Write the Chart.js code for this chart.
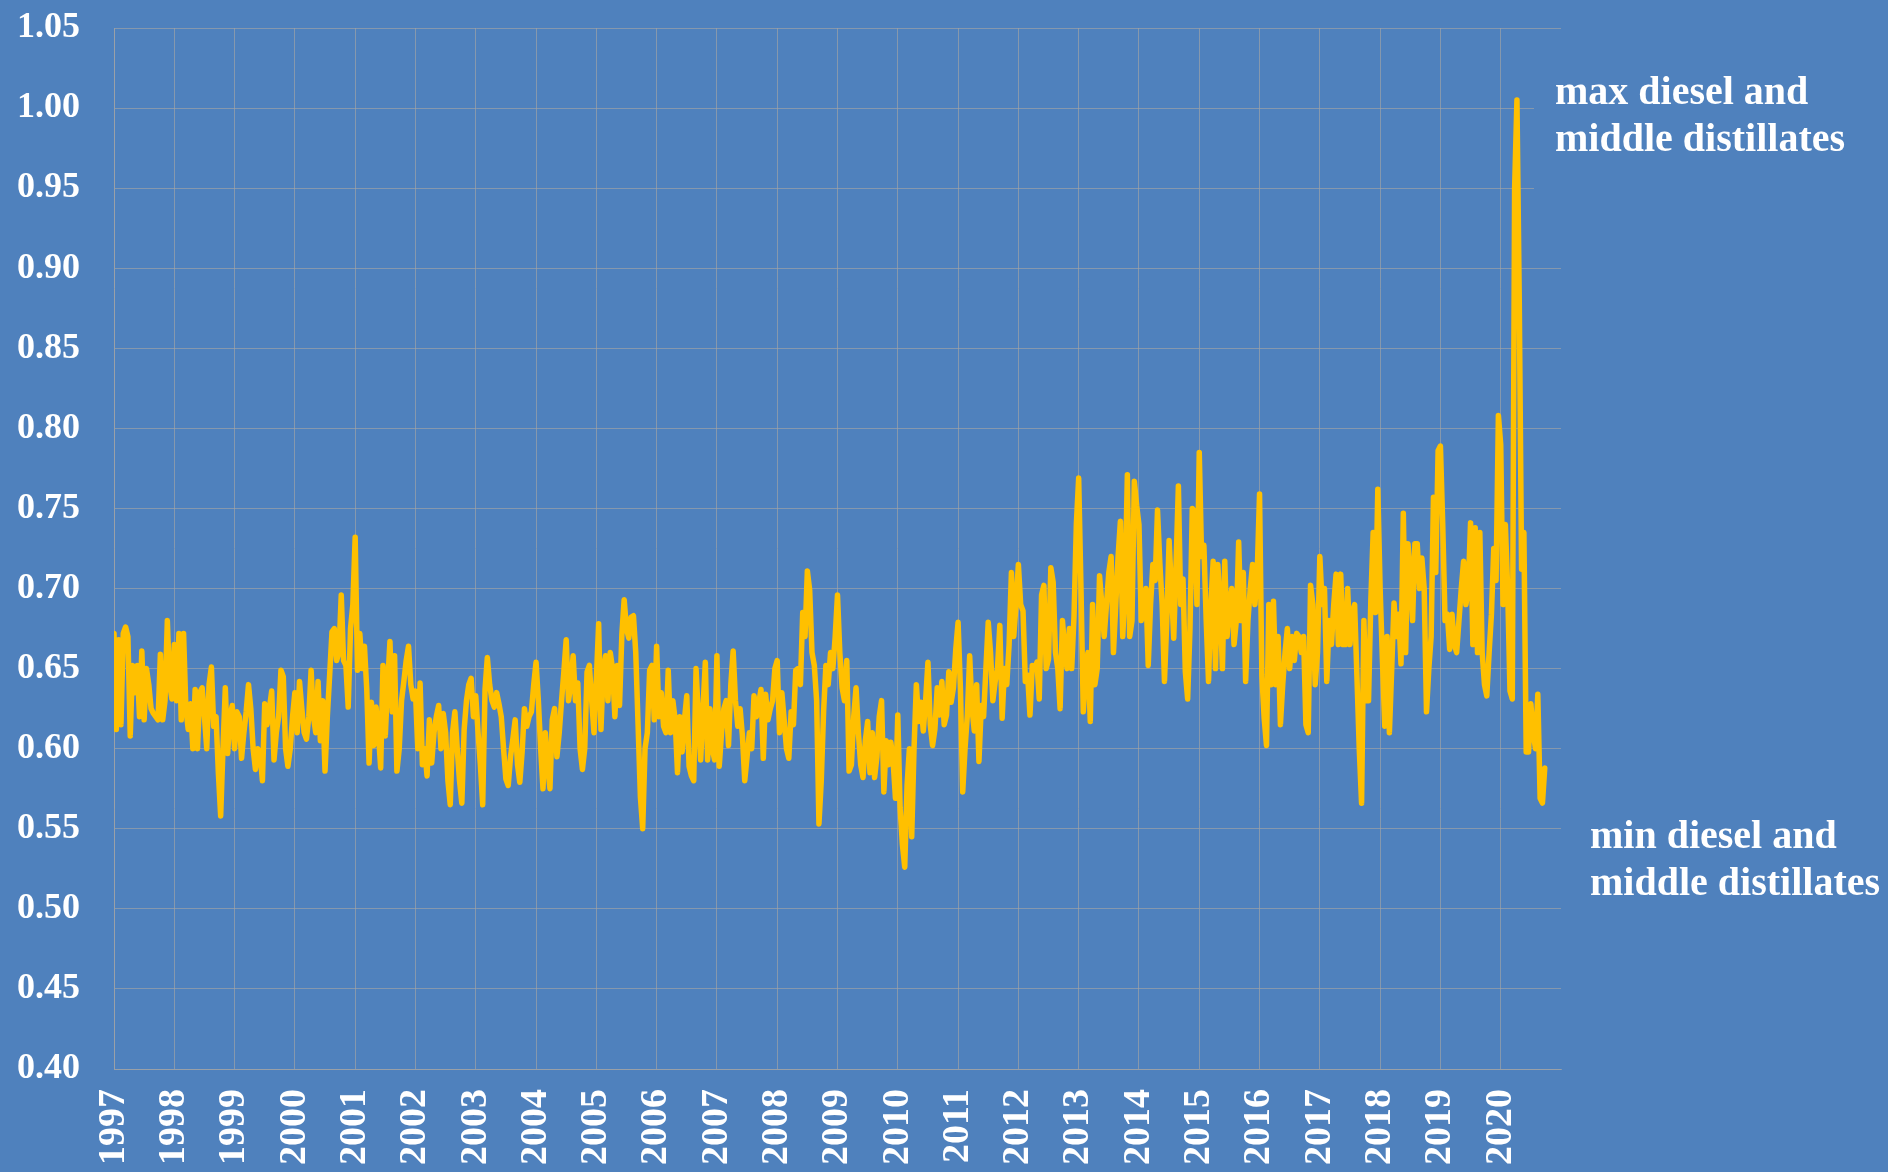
<!DOCTYPE html>
<html>
<head>
<meta charset="utf-8">
<script src="https://cdn.jsdelivr.net/npm/chart.js@4.4.0/dist/chart.umd.min.js"></script>
<style>
  html, body { margin: 0; padding: 0; background: #4F81BD; }
  #wrap { width: 1888px; height: 1172px; }
</style>
</head>
<body>
<div id="wrap"><canvas id="c" width="1888" height="1172"></canvas></div>
<script>
// ---- DATA (26 readings per year, ~every two weeks) ----
const yearLabels = ['1997','1998','1999','2000','2001','2002','2003','2004','2005','2006','2007','2008',
                    '2009','2010','2011','2012','2013','2014','2015','2016','2017','2018','2019','2020'];
const yTicks = [0.40,0.45,0.50,0.55,0.60,0.65,0.70,0.75,0.80,0.85,0.90,0.95,1.00,1.05];

const v1997 = [0.672,0.612,0.668,0.615,0.672,0.676,0.670,0.608,0.652,0.635,0.652,0.620,0.661,0.618,0.650,0.640,0.625,0.622,0.620,0.618,0.659,0.618,0.630,0.680,0.640,0.631];
const v1998 = [0.665,0.630,0.672,0.618,0.672,0.625,0.612,0.628,0.600,0.637,0.600,0.635,0.638,0.620,0.600,0.640,0.651,0.614,0.620,0.585,0.558,0.600,0.638,0.597,0.620,0.627];
const v1999 = [0.600,0.623,0.620,0.594,0.610,0.623,0.640,0.625,0.600,0.587,0.600,0.597,0.580,0.628,0.615,0.625,0.636,0.593,0.610,0.620,0.649,0.645,0.600,0.589,0.600,0.620];
const v2000 = [0.635,0.610,0.642,0.625,0.610,0.606,0.620,0.649,0.620,0.610,0.642,0.605,0.630,0.586,0.620,0.646,0.673,0.675,0.655,0.660,0.696,0.655,0.652,0.626,0.675,0.690];
const v2001 = [0.732,0.649,0.672,0.650,0.664,0.637,0.591,0.629,0.602,0.626,0.610,0.588,0.652,0.608,0.640,0.667,0.623,0.658,0.586,0.600,0.630,0.642,0.655,0.664,0.640,0.631];
const v2002 = [0.636,0.600,0.641,0.590,0.600,0.583,0.618,0.591,0.610,0.620,0.627,0.600,0.622,0.610,0.580,0.565,0.610,0.623,0.600,0.580,0.566,0.612,0.630,0.640,0.644,0.620];
const v2003 = [0.633,0.610,0.590,0.565,0.637,0.657,0.640,0.630,0.626,0.635,0.628,0.620,0.600,0.581,0.577,0.595,0.606,0.618,0.590,0.579,0.598,0.625,0.614,0.620,0.623,0.640];
const v2004 = [0.654,0.630,0.600,0.575,0.610,0.590,0.575,0.618,0.625,0.595,0.610,0.630,0.648,0.668,0.630,0.640,0.658,0.630,0.641,0.600,0.587,0.600,0.648,0.652,0.630,0.610];
const v2005 = [0.643,0.678,0.612,0.650,0.658,0.630,0.660,0.650,0.620,0.652,0.627,0.671,0.693,0.675,0.669,0.682,0.683,0.660,0.615,0.570,0.550,0.600,0.610,0.649,0.652,0.618];
const v2006 = [0.664,0.620,0.635,0.614,0.610,0.649,0.610,0.630,0.618,0.585,0.620,0.598,0.618,0.633,0.589,0.583,0.580,0.650,0.620,0.593,0.625,0.654,0.593,0.625,0.600,0.593];
const v2007 = [0.658,0.589,0.610,0.625,0.630,0.602,0.640,0.661,0.630,0.614,0.625,0.608,0.580,0.595,0.610,0.600,0.633,0.620,0.628,0.637,0.594,0.634,0.618,0.625,0.630,0.650];
const v2008 = [0.655,0.610,0.635,0.618,0.600,0.594,0.623,0.615,0.649,0.650,0.640,0.685,0.670,0.711,0.699,0.660,0.652,0.630,0.553,0.580,0.623,0.652,0.640,0.660,0.650,0.670];
const v2009 = [0.696,0.660,0.638,0.630,0.655,0.586,0.590,0.620,0.638,0.610,0.590,0.582,0.605,0.617,0.585,0.610,0.582,0.595,0.620,0.630,0.573,0.605,0.590,0.604,0.592,0.569];
const v2010 = [0.621,0.563,0.540,0.526,0.577,0.600,0.545,0.600,0.640,0.617,0.629,0.611,0.630,0.654,0.615,0.602,0.612,0.638,0.621,0.642,0.615,0.621,0.648,0.629,0.638,0.662];
const v2011 = [0.679,0.638,0.573,0.600,0.621,0.658,0.625,0.611,0.640,0.592,0.627,0.620,0.650,0.679,0.660,0.630,0.642,0.650,0.677,0.619,0.650,0.640,0.665,0.710,0.670,0.690];
const v2012 = [0.715,0.690,0.686,0.642,0.646,0.621,0.652,0.650,0.654,0.631,0.696,0.702,0.650,0.656,0.713,0.704,0.660,0.650,0.625,0.680,0.662,0.650,0.675,0.650,0.683,0.740];
const v2013 = [0.769,0.700,0.623,0.650,0.660,0.617,0.690,0.640,0.650,0.708,0.690,0.670,0.690,0.710,0.720,0.660,0.690,0.720,0.742,0.670,0.700,0.771,0.670,0.680,0.767,0.752];
const v2014 = [0.740,0.680,0.690,0.700,0.652,0.690,0.715,0.705,0.749,0.716,0.690,0.642,0.680,0.730,0.700,0.669,0.715,0.764,0.690,0.706,0.648,0.631,0.675,0.750,0.748,0.690];
const v2015 = [0.785,0.720,0.727,0.680,0.642,0.690,0.717,0.650,0.715,0.690,0.650,0.717,0.670,0.690,0.700,0.665,0.680,0.729,0.680,0.710,0.642,0.680,0.700,0.715,0.690,0.710];
const v2016 = [0.759,0.646,0.619,0.602,0.690,0.640,0.692,0.640,0.670,0.615,0.640,0.660,0.675,0.650,0.670,0.655,0.672,0.670,0.660,0.670,0.615,0.610,0.702,0.690,0.640,0.660];
const v2017 = [0.720,0.690,0.700,0.642,0.680,0.665,0.690,0.709,0.665,0.709,0.665,0.665,0.700,0.665,0.685,0.690,0.645,0.600,0.566,0.680,0.630,0.630,0.693,0.735,0.685,0.762];
const v2018 = [0.700,0.655,0.614,0.670,0.610,0.650,0.691,0.670,0.684,0.653,0.747,0.660,0.728,0.710,0.680,0.728,0.728,0.700,0.719,0.700,0.623,0.650,0.670,0.757,0.710,0.786];
const v2019 = [0.789,0.740,0.680,0.684,0.662,0.684,0.665,0.660,0.680,0.700,0.717,0.690,0.700,0.741,0.665,0.738,0.660,0.735,0.660,0.640,0.633,0.660,0.684,0.725,0.705,0.808];
const v2020 = [0.790,0.690,0.740,0.700,0.636,0.631,0.950,1.005,0.880,0.712,0.735,0.598,0.598,0.628,0.610,0.600,0.634,0.569,0.566,0.588];

const maxLabel = ['max diesel and', 'middle distillates'];
const minLabel = ['min diesel and', 'middle distillates'];

// ---- build points: each yearly array holds readings spaced 1/26 of a year apart ----
const byYear = [v1997,v1998,v1999,v2000,v2001,v2002,v2003,v2004,v2005,v2006,v2007,v2008,
                v2009,v2010,v2011,v2012,v2013,v2014,v2015,v2016,v2017,v2018,v2019,v2020];
const points = [];
byYear.forEach((arr, k) => {
  const yr = Number(yearLabels[k]);
  arr.forEach((v, i) => points.push({ x: yr + i / 26, y: v }));
});

const BG = '#4F81BD';
const GRID = 'rgba(165,165,165,0.65)';
const FONT = '"Liberation Serif", "Times New Roman", serif';

const annotations = {
  id: 'annotations',
  afterDraw(chart) {
    const { ctx, chartArea } = chart;
    ctx.save();
    // text box that sits over the grid in the original
    ctx.fillStyle = BG;
    ctx.fillRect(chartArea.right - 27, 62, 1888 - (chartArea.right - 27), 168);
    ctx.fillStyle = '#FFFFFF';
    ctx.font = 'bold 40px ' + FONT;
    ctx.textAlign = 'left';
    ctx.textBaseline = 'alphabetic';
    ctx.fillText(maxLabel[0], chartArea.right - 6, 104);
    ctx.fillText(maxLabel[1], chartArea.right - 6, 151);
    ctx.fillText(minLabel[0], chartArea.right + 29, 848);
    ctx.fillText(minLabel[1], chartArea.right + 29, 895);
    ctx.restore();
  }
};

const bgPlugin = {
  id: 'bg',
  beforeDraw(chart) {
    const { ctx } = chart;
    ctx.save();
    ctx.fillStyle = BG;
    ctx.fillRect(0, 0, chart.width, chart.height);
    ctx.restore();
  }
};

new Chart(document.getElementById('c'), {
  type: 'line',
  data: {
    datasets: [{
      data: points,
      borderColor: '#FFC000',
      borderWidth: 5.5,
      pointRadius: 0,
      tension: 0,
      borderJoinStyle: 'round',
      borderCapStyle: 'round',
      fill: false
    }]
  },
  options: {
    responsive: false,
    animation: false,
    devicePixelRatio: 1,
    layout: { padding: { top: 28, right: 327, left: 0, bottom: 0 } },
    plugins: { legend: { display: false }, tooltip: { enabled: false } },
    scales: {
      x: {
        type: 'linear',
        min: Number(yearLabels[0]),
        max: Number(yearLabels[yearLabels.length - 1]) + 1,
        afterBuildTicks(scale) {
          scale.ticks = yearLabels.map(l => ({ value: Number(l) }));
        },
        afterFit(scale) { scale.height = 103; scale.paddingLeft = 0; scale.paddingRight = 0; },
        grid: { color: GRID, lineWidth: 1, drawTicks: false },
        border: { color: GRID, width: 1 },
        ticks: {
          autoSkip: false,
          maxRotation: 90,
          minRotation: 90,
          padding: 20,
          color: '#FFFFFF',
          font: { family: FONT, size: 38, weight: 'bold' },
          callback: (v) => String(v)
        }
      },
      y: {
        min: yTicks[0],
        max: yTicks[yTicks.length - 1],
        afterBuildTicks(scale) {
          scale.ticks = yTicks.map(v => ({ value: v }));
        },
        afterFit(scale) { scale.width = 114; scale.paddingTop = 0; scale.paddingBottom = 0; },
        grid: { color: GRID, lineWidth: 1, drawTicks: false },
        border: { color: GRID, width: 1 },
        ticks: {
          padding: 34,
          color: '#FFFFFF',
          font: { family: FONT, size: 36, weight: 'bold' },
          callback: (v) => Number(v).toFixed(2)
        }
      }
    }
  },
  plugins: [bgPlugin, annotations]
});
</script>
</body>
</html>
